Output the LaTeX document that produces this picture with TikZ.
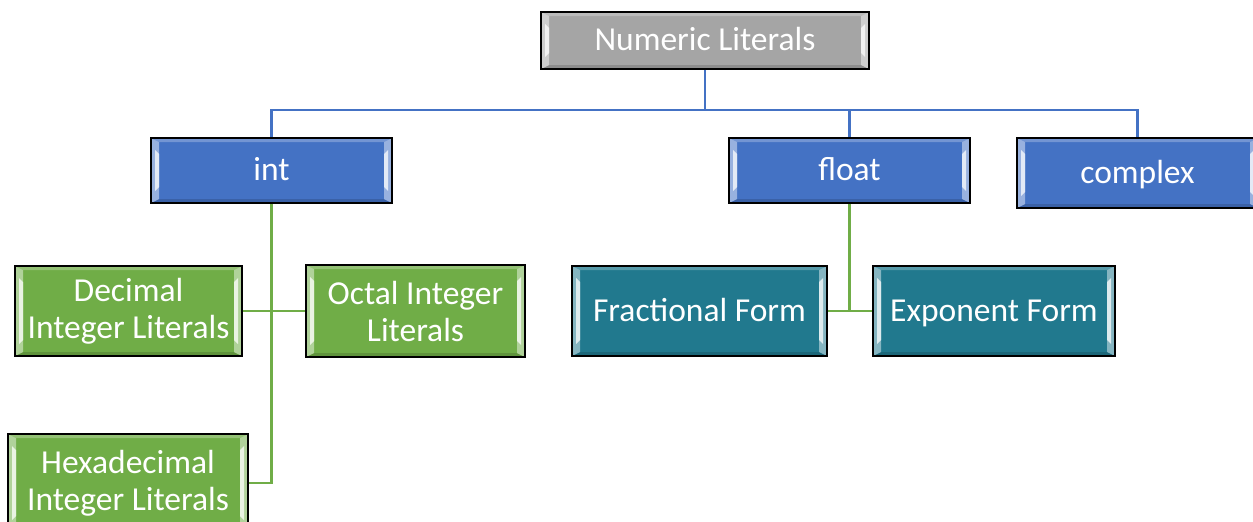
\documentclass[tikz,border=0pt]{standalone}
\usepackage{fontspec}
\setmainfont{Carlito}
\definecolor{cgray}{HTML}{A5A5A5}
\definecolor{cblue}{HTML}{4472C4}
\definecolor{cgreen}{HTML}{70AD47}
\definecolor{cteal}{HTML}{21798E}
\tikzset{
  bev/.style={
    rectangle, draw=black, line width=1.6pt, fill=#1, text=white,
    font=\fontsize{33.5}{37}\selectfont, align=center, inner sep=0pt,
    path picture={
      \path (path picture bounding box.north west) coordinate (nw)
            (path picture bounding box.south east) coordinate (se)
            (path picture bounding box.north east) coordinate (ne)
            (path picture bounding box.south west) coordinate (sw);
      \fill[#1!75!white] (nw) -- (ne) -- ([shift={(-8,4)}]ne) -- ([shift={(8,4)}]nw) -- cycle;
      \fill[#1!85!black] (sw) -- (se) -- ([shift={(-8,-4)}]se) -- ([shift={(8,-4)}]sw) -- cycle;
      \fill[#1!55!white] (nw) -- ([shift={(8,4)}]nw) -- ([shift={(8,-4)}]sw) -- (sw) -- cycle;
      \fill[#1!55!white] (ne) -- ([shift={(-8,4)}]ne) -- ([shift={(-8,-4)}]se) -- (se) -- cycle;
      \fill[white!85!#1] ([shift={(4,12)}]nw) -- ([shift={(8,16)}]nw) -- ([shift={(8,-16)}]sw) -- ([shift={(4,-12)}]sw) -- cycle;
      \fill[white!85!#1] ([shift={(-4,12)}]ne) -- ([shift={(-8,16)}]ne) -- ([shift={(-8,-16)}]se) -- ([shift={(-4,-12)}]se) -- cycle;
    }},
  oneline/.style={text height=24pt, text depth=4pt},
  blueline/.style={draw=cblue, line width=2.6pt},
  greenline/.style={draw=cgreen, line width=2.6pt},
}
\begin{document}
\begin{tikzpicture}[x=1pt,y=-1pt]
\clip (0,0) rectangle (1253,522);
\fill[white] (0,0) rectangle (1253,522);
\node[bev=cgray, oneline, minimum width=328pt, minimum height=57pt] (root) at (705,40.5) {Numeric Literals};
\node[bev=cblue, oneline, minimum width=241pt, minimum height=65pt] (int) at (271.5,170.5) {int};
\node[bev=cblue, oneline, minimum width=241pt, minimum height=65pt] (float) at (849.5,170.5) {float};
\node[bev=cblue, oneline, minimum width=241pt, minimum height=70pt] (complex) at (1137.5,173) {complex};
\node[bev=cgreen, minimum width=227pt, minimum height=90pt] (dec) at (128.5,311) {Decimal\\Integer Literals};
\node[bev=cgreen, minimum width=219pt, minimum height=92pt] (oct) at (415.5,311) {Octal Integer\\Literals};
\node[bev=cgreen, minimum width=240pt, minimum height=98pt] (hex) at (128,483) {Hexadecimal\\Integer Literals};
\node[bev=cteal, oneline, minimum width=255pt, minimum height=90pt] (frac) at (699.5,311) {Fractional Form};
\node[bev=cteal, oneline, minimum width=242pt, minimum height=90pt] (exp) at (994,311) {Exponent Form};
\coordinate (bus) at (705,110);
\draw[blueline] (root.south) -- (bus);
\draw[blueline] (bus) -| (int.north);
\draw[blueline] (bus) -| (float.north);
\draw[blueline] (bus) -| (complex.north);
\draw[greenline] (int.south) |- (hex.east);
\draw[greenline] (dec.east) -- (oct.west);
\draw[greenline] (float.south) -- (float.south |- frac.east);
\draw[greenline] (frac.east) -- (exp.west);
\end{tikzpicture}
\end{document}
